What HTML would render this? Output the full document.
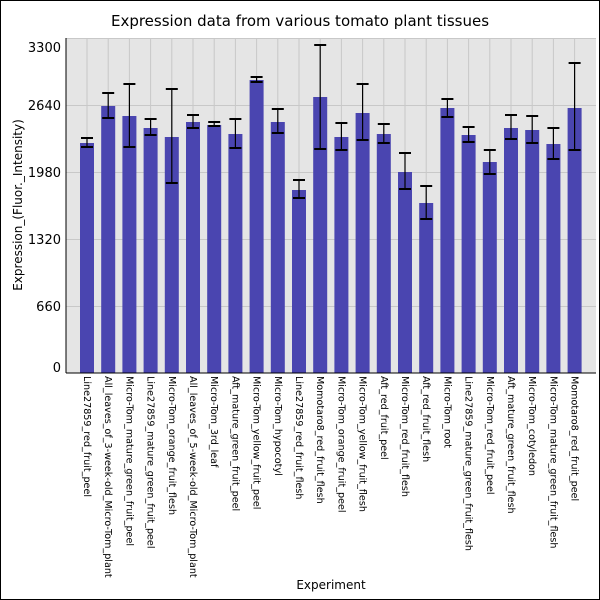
<!DOCTYPE html>
<html><head><meta charset="utf-8"><style>
html,body{margin:0;padding:0;background:#fff}
svg{display:block;font-family:"DejaVu Sans","Liberation Sans",sans-serif}
</style></head><body>
<svg width="600" height="600" viewBox="0 0 600 600" xmlns="http://www.w3.org/2000/svg">
<rect x="0.5" y="0.5" width="599" height="599" fill="#fff" stroke="#000"/>
<text x="300" y="26" font-size="15" text-anchor="middle">Expression data from various tomato plant tissues</text>
<rect x="66" y="38" width="530" height="335" fill="#e5e5e5"/>
<g stroke="#c8c8c8" stroke-width="1" id="grid"></g>
<g id="bars"></g>
<line x1="66" y1="38" x2="66" y2="373" stroke="#000"/>
<line x1="66" y1="373" x2="596" y2="373" stroke="#000"/>
<g font-size="13" text-anchor="end" fill="#000">
<text x="61" y="52">3300</text>
<text x="61" y="110">2640</text>
<text x="61" y="177">1980</text>
<text x="61" y="244">1320</text>
<text x="61" y="311">660</text>
<text x="61" y="372">0</text>
</g>
<text transform="translate(22,205) rotate(-90)" font-size="12" text-anchor="middle">Expression_(Fluor._Intensity)</text>
<text x="331" y="589" font-size="12" text-anchor="middle">Experiment</text>
<g id="labels" font-size="9.6"></g>
</svg>
<script>
var names=["Line27859_red_fruit_peel","All_leaves_of_3-week-old_Micro-Tom_plant","Micro-Tom_mature_green_fruit_peel","Line27859_mature_green_fruit_peel","Micro-Tom_orange_fruit_flesh","All_leaves_of_5-week-old_Micro-Tom_plant","Micro-Tom_3rd_leaf","Aft_mature_green_fruit_peel","Micro-Tom_yellow_fruit_peel","Micro-Tom_hypocotyl","Line27859_red_fruit_flesh","Momotaro8_red_fruit_flesh","Micro-Tom_orange_fruit_peel","Micro-Tom_yellow_fruit_flesh","Aft_red_fruit_peel","Micro-Tom_red_fruit_flesh","Aft_red_fruit_flesh","Micro-Tom_root","Line27859_mature_green_fruit_flesh","Micro-Tom_red_fruit_peel","Aft_mature_green_fruit_flesh","Micro-Tom_cotyledon","Micro-Tom_mature_green_fruit_flesh","Momotaro8_red_fruit_peel"];
var d=[[143,138,147],[106,93,118],[116,84,147],[128,119,135],[137,89,183],[122,115,128],[125,122,126],[134,119,148],[80,77,82],[122,109,133],[190,180,198],[97,45,149],[137,123,150],[113,84,140],[134,124,143],[172,153,189],[203,186,219],[108,99,117],[135,127,142],[162,150,174],[128,115,139],[130,116,143],[144,128,159],[108,63,150]];
var ns="http://www.w3.org/2000/svg";
function el(p,t,a,txt){var e=document.createElementNS(ns,t);for(var k in a)e.setAttribute(k,a[k]);if(txt)e.textContent=txt;p.appendChild(e);return e;}
var g=document.getElementById("grid"),b=document.getElementById("bars"),l=document.getElementById("labels");
[38.5,105.5,172.5,239.5,306.5].forEach(function(y){el(g,"line",{x1:66,x2:596,y1:y,y2:y});});
for(var i=0;i<24;i++){var cx=87+i*21.2;
el(g,"line",{x1:cx,x2:cx,y1:38,y2:373});
var v=d[i];
el(b,"rect",{x:cx-7,y:v[0],width:14,height:373-v[0],fill:"#4a45b0"});
el(b,"line",{x1:cx,x2:cx,y1:v[1],y2:v[2],stroke:"#000","stroke-width":1.2});
el(b,"line",{x1:cx-6,x2:cx+6,y1:v[1],y2:v[1],stroke:"#000","stroke-width":2});
el(b,"line",{x1:cx-6,x2:cx+6,y1:v[2],y2:v[2],stroke:"#000","stroke-width":2});
el(l,"text",{transform:"translate("+(cx-3)+",376) rotate(90)"},names[i]);
}
</script>
</body></html>
